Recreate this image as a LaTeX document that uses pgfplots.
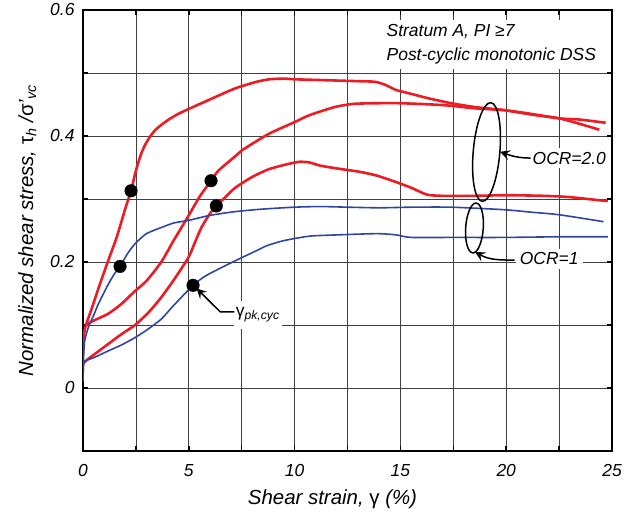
\documentclass[border=0pt]{standalone}
\usepackage{pgfplots}
\pgfplotsset{compat=1.18}
\usetikzlibrary{arrows.meta,shapes.geometric}
\usepackage{fontspec}
\setmainfont{Liberation Sans}
\definecolor{cred}{RGB}{237,28,36}
\definecolor{cblue}{RGB}{45,70,165}
\newcommand{\annfont}{\fontsize{17.5}{24}\selectfont\itshape}
\begin{document}
\begin{tikzpicture}[x=1bp,y=1bp]
\path[use as bounding box] (0,0) rectangle (633,512);
\begin{axis}[
  at={(83bp,61bp)}, anchor=south west,
  scale only axis, width=529bp, height=441bp,
  xmin=0, xmax=25, ymin=-0.1, ymax=0.6,
  xtick={0,5,10,15,20,25}, xticklabels={0,5,10,15,20,25},
  minor xtick={2.5,7.5,12.5,17.5,22.5},
  ytick={0,0.2,0.4,0.6}, yticklabels={0,0.2,0.4,0.6},
  minor ytick={-0.1,0.1,0.3,0.5},
  grid=both,
  major grid style={line width=0.8bp, black!75},
  minor grid style={line width=0.8bp, black!75},
  axis line style={line width=2.5bp, black},
  tick align=inside, major tick length=5bp, minor tick length=5bp,
  tick style={line width=1.5bp, black},
  ticklabel style={font=\fontsize{17.5}{20}\selectfont\itshape},
  xticklabel style={yshift=-10bp},
  yticklabel style={xshift=-5bp},
  xlabel={\itshape Shear strain, {\upshape γ} (\%)},
  xlabel style={at={(axis description cs:0.4716,-0.1224)}, anchor=base, font=\fontsize{20.5}{24}\selectfont},
  ylabel={\itshape Normalized shear stress, {\upshape τ}\textsubscript{\itshape h} /{\upshape σ}'\textsubscript{\itshape vc}},
  ylabel style={at={(axis description cs:-0.0945,0.5)}, anchor=base, font=\fontsize{20.5}{24}\selectfont},
]
% Red curves (OCR = 2.0)
\addplot[cred, line width=2.6bp, smooth, tension=0.4] coordinates {
(0,0.059) (0.05,0.085) (0.12,0.098) (0.4,0.125) (0.8,0.165) (1.2,0.203) (1.6,0.24) (2.0,0.285) (2.27,0.313) (2.5,0.345) (2.75,0.372) (3.0,0.39) (3.4,0.409) (4.0,0.425) (4.5,0.435) (5.0,0.443) (6.0,0.458) (7.0,0.473) (7.5,0.479) (8.2,0.486) (8.8,0.49) (9.5,0.491) (10.0,0.49) (11.0,0.489) (12.0,0.488) (13.0,0.487) (13.8,0.486) (14.3,0.481) (14.8,0.473) (15.5,0.467) (16.3,0.46) (17.4,0.452) (18.5,0.446) (19.9,0.441) (21.2,0.434) (22.5,0.428) (23.5,0.419) (24.4,0.41)
};
\addplot[cred, line width=2.6bp, smooth, tension=0.4] coordinates {
(0.12,0.098) (0.33,0.104) (0.7,0.11) (1.2,0.118) (1.8,0.133) (2.46,0.154) (3.0,0.17) (3.7,0.2) (4.3,0.235) (4.98,0.273) (5.5,0.303) (6.05,0.329) (6.4,0.345) (7.2,0.368) (7.5,0.377) (8.76,0.403) (10.0,0.422) (10.7,0.433) (11.9,0.446) (12.8,0.451) (13.9,0.452) (15,0.452) (16.5,0.45) (17.4,0.448) (18.5,0.444) (19.9,0.441) (21,0.436) (22.5,0.428) (23.5,0.426) (24.7,0.421)
};
\addplot[cred, line width=2.6bp, smooth, tension=0.4] coordinates {
(0,0.038) (0.2,0.045) (0.6,0.055) (1.2,0.07) (1.8,0.085) (2.46,0.1) (3.1,0.12) (3.7,0.144) (4.3,0.172) (4.98,0.207) (5.3,0.232) (5.6,0.255) (6.0,0.277) (6.3,0.289) (6.7,0.302) (7.2,0.318) (8.0,0.335) (8.76,0.347) (9.5,0.354) (10.2,0.359) (10.7,0.358) (11.2,0.353) (11.9,0.349) (12.3,0.347) (13.1,0.343) (13.9,0.337) (14.7,0.328) (15.5,0.318) (16.25,0.307) (17.0,0.305) (18.5,0.305) (20.0,0.306) (21.8,0.305) (23.0,0.303) (24.4,0.298) (24.8,0.297)
};
% Blue curves (OCR = 1)
\addplot[cblue, line width=1.6bp, smooth, tension=0.4] coordinates {
(0,0.01) (0.03,0.05) (0.08,0.075) (0.25,0.096) (0.5,0.115) (0.72,0.133) (1.0,0.152) (1.2,0.165) (1.5,0.182) (1.75,0.193) (2.1,0.213) (2.46,0.229) (3.0,0.245) (3.72,0.255) (4.3,0.262) (4.98,0.266) (6.0,0.274) (7.2,0.28) (8.5,0.284) (10.0,0.287) (11.2,0.288) (12.5,0.287) (14.0,0.286) (15.5,0.287) (17.4,0.287) (19.9,0.283) (21.2,0.279) (22.5,0.275) (24.6,0.264)
};
\addplot[cblue, line width=1.6bp, smooth, tension=0.4] coordinates {
(0,0.015) (0.03,0.04) (0.1,0.043) (0.57,0.049) (1.2,0.059) (1.8,0.068) (2.46,0.08) (3.1,0.094) (3.72,0.11) (4.2,0.128) (4.65,0.144) (5.2,0.163) (5.7,0.176) (6.24,0.186) (7.2,0.202) (8.2,0.218) (8.7,0.226) (9.5,0.234) (10.7,0.241) (12,0.243) (13.9,0.245) (14.8,0.243) (15.5,0.239) (17.4,0.239) (19.9,0.239) (22.5,0.240) (24.8,0.240)
};
% gamma_pk,cyc points
\addplot[only marks, mark=*, mark size=6.3bp, black] coordinates {
(2.27,0.313) (6.05,0.329) (6.3,0.289) (1.75,0.193) (5.2,0.163)
};
% annotations
\node[fill=white, anchor=west, align=left, inner xsep=3bp, inner ysep=5bp, font=\annfont] at (axis cs:14.2,0.545) {Stratum A, PI ≥7\\Post-cyclic monotonic DSS};
\node[draw, ellipse, line width=1.5bp, minimum width=26.6bp, minimum height=99bp, inner sep=0pt, rotate=-5] at (axis cs:19.07,0.3746) {};
\node[draw, ellipse, line width=1.5bp, minimum width=17.6bp, minimum height=50bp, inner sep=0pt, rotate=-4] at (axis cs:18.5,0.254) {};
\node[fill=white, anchor=west, inner xsep=2bp, inner ysep=4bp, font=\annfont] at (axis cs:21.15,0.365) {OCR=2.0};
\draw[line width=1.5bp, -{Stealth[length=10bp, width=10bp, inset=4bp]}] (axis cs:21.15,0.365) to[out=180,in=-20] (axis cs:19.71,0.375);
\node[fill=white, anchor=west, inner xsep=4bp, inner ysep=4bp, font=\annfont] at (axis cs:20.45,0.205) {OCR=1};
\draw[line width=1.5bp, -{Stealth[length=10bp, width=10bp, inset=4bp]}] (axis cs:20.4,0.203) to[out=180,in=-30] (axis cs:18.53,0.216);
\node[fill=white, anchor=west, inner xsep=2bp, inner ysep=7bp, font=\annfont] at (axis cs:7.12,0.116) {{\upshape γ}\textsubscript{pk,cyc}};
\draw[line width=1.5bp, {Stealth[length=10bp, width=10bp, inset=4bp]}-] (axis cs:5.37,0.158) -- (axis cs:6.48,0.121) -- (axis cs:7.15,0.121);
\end{axis}
\end{tikzpicture}
\end{document}
